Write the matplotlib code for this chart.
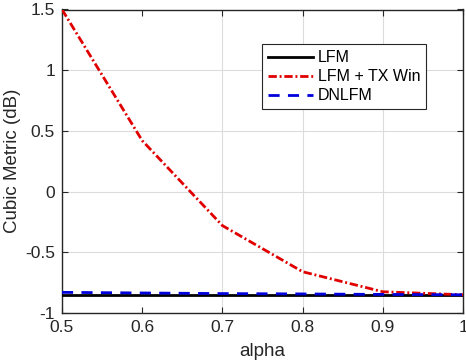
import matplotlib
matplotlib.use("Agg")
import matplotlib.pyplot as plt

alpha = [0.5, 0.6, 0.7, 0.8, 0.9, 1.0]
cm_lfm = [-0.85, -0.85, -0.85, -0.85, -0.85, -0.85]
cm_lfm_txwin = [1.5, 0.42, -0.28, -0.66, -0.825, -0.85]
cm_dnlfm = [-0.83, -0.835, -0.84, -0.843, -0.847, -0.85]

xticks = [0.5, 0.6, 0.7, 0.8, 0.9, 1.0]
xticklabels = ["0.5", "0.6", "0.7", "0.8", "0.9", "1"]
yticks = [-1, -0.5, 0, 0.5, 1, 1.5]
yticklabels = ["-1", "-0.5", "0", "0.5", "1", "1.5"]

plt.rcParams['font.family'] = ['Liberation Sans', 'DejaVu Sans']

fig = plt.figure(figsize=(4.66, 3.62), dpi=100)
ax = fig.add_axes([62/466, 1-313/362, (463-62)/466, (313-9.5)/362])

ax.plot(alpha, cm_lfm, color='black', lw=2, label='LFM', zorder=3)
ax.plot(alpha, cm_lfm_txwin, color='#e00000', lw=2, ls=(0, (3, 1, 0.7, 1)),
        label='LFM + TX Win', zorder=4)
ax.plot(alpha, cm_dnlfm, color='#0000dd', lw=2, ls=(0, (4, 3)), label='DNLFM', zorder=5)

ax.set_xlim(0.5, 1.0)
ax.set_ylim(-1, 1.5)
ax.set_xticks(xticks)
ax.set_xticklabels(xticklabels)
ax.set_yticks(yticks)
ax.set_yticklabels(yticklabels)
ax.tick_params(direction='in', top=True, right=True, length=4, width=0.8,
               labelsize=12.5, colors='#262626', pad=5)
ax.grid(True, color='#dcdcdc', lw=0.8)
ax.xaxis.get_gridlines()[1].set_visible(False)
ax.set_axisbelow(True)
for s in ax.spines.values():
    s.set_color('#262626')
    s.set_linewidth(1)

ax.set_xlabel('alpha', fontsize=13.5, color='#262626', labelpad=6)
ax.set_ylabel('Cubic Metric (dB)', fontsize=13.5, color='#262626', labelpad=3)

leg = ax.legend(loc='upper left', bbox_to_anchor=(0.499, 0.886), fontsize=11.5,
                handlelength=2.8, handletextpad=0.3, borderpad=0.38,
                labelspacing=0.25, fancybox=False, framealpha=1,
                edgecolor='#262626', borderaxespad=0)
leg.get_frame().set_linewidth(0.8)

fig.savefig('out.png', dpi=100)
